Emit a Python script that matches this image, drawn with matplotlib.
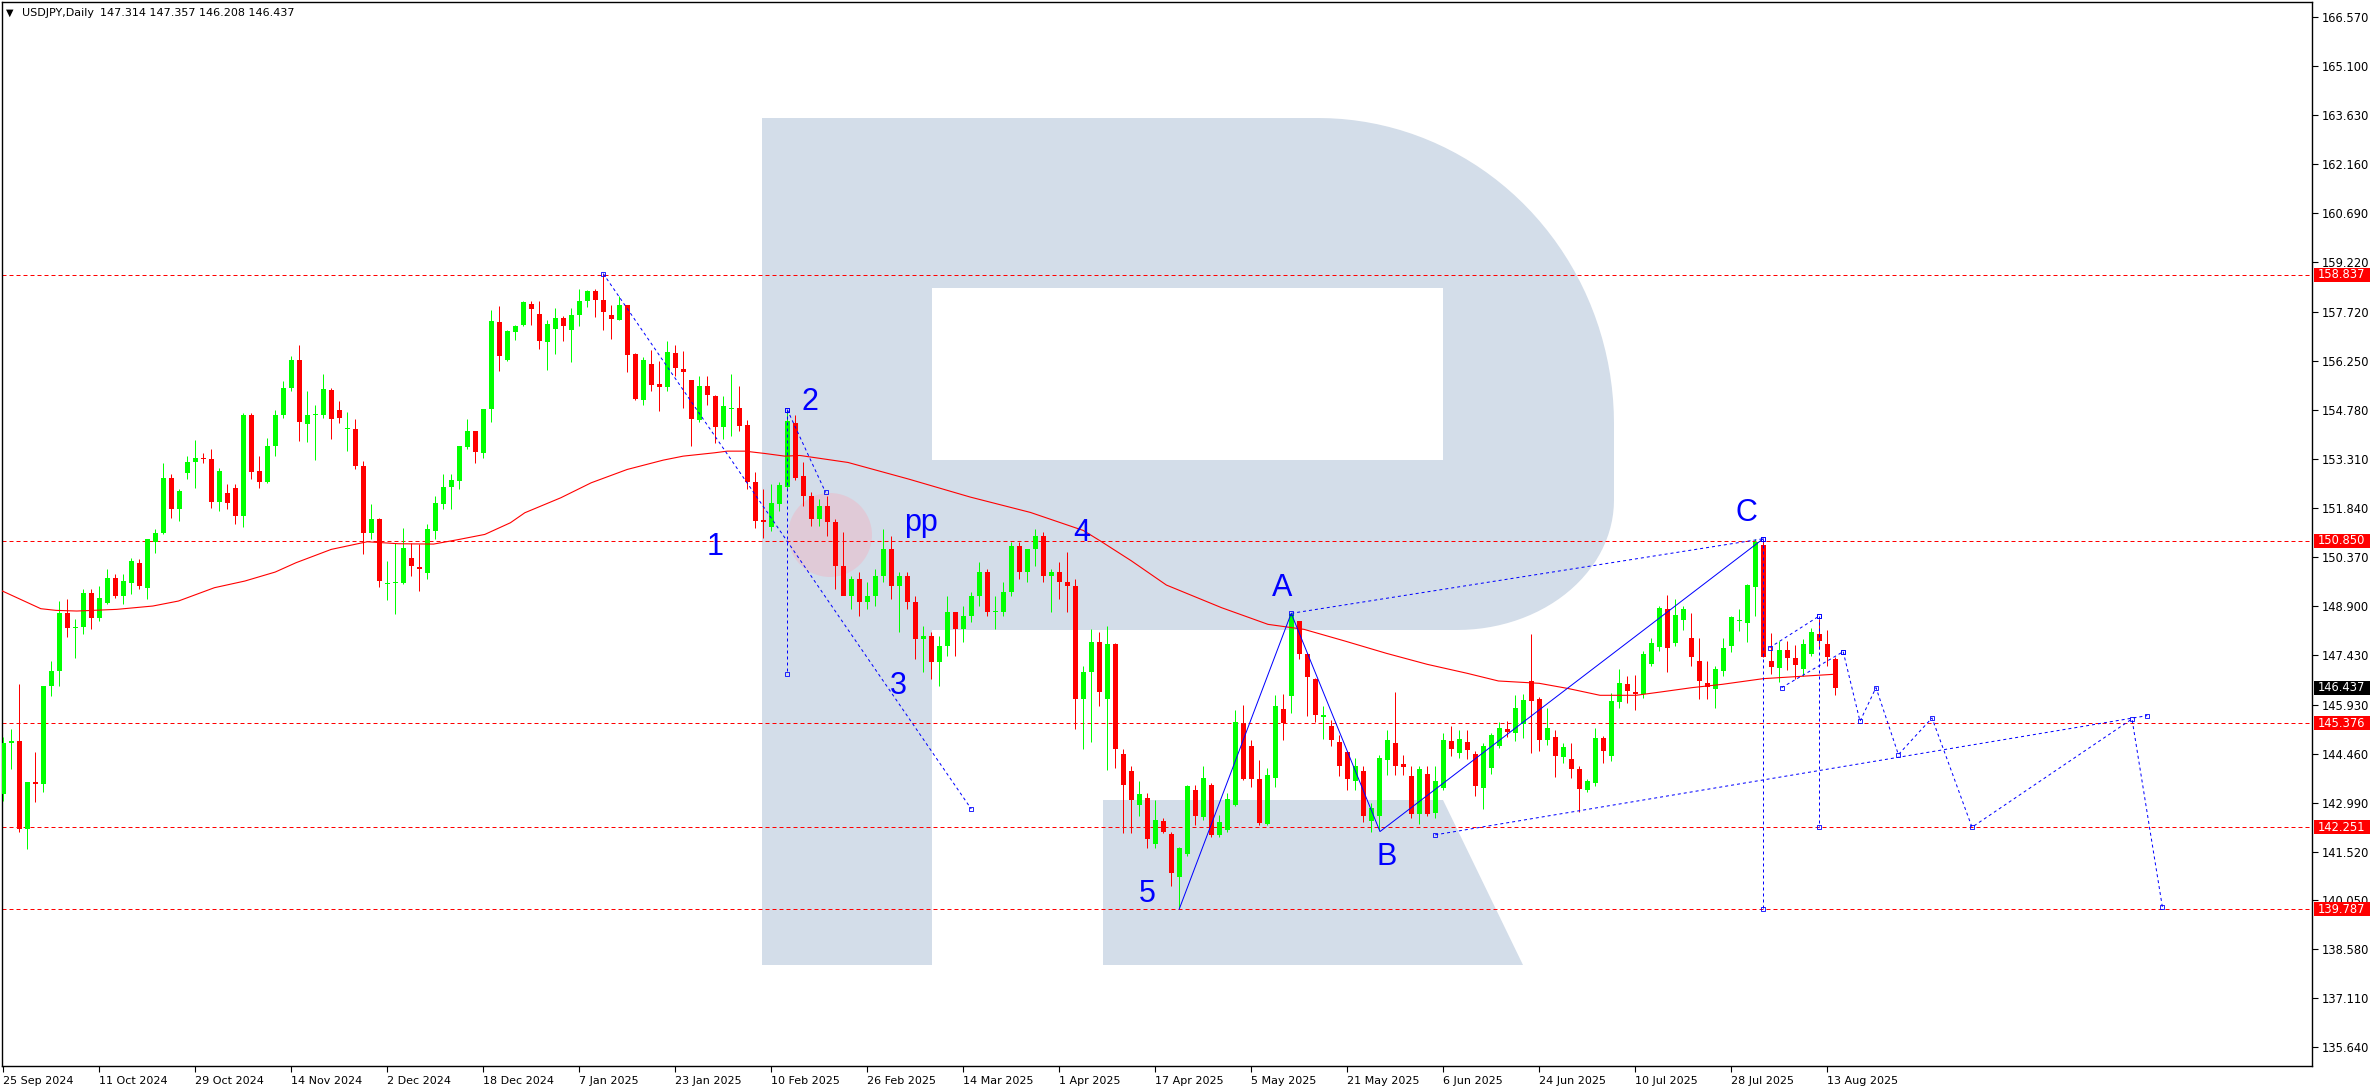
import matplotlib
matplotlib.use('Agg')
import matplotlib.pyplot as plt
from matplotlib.patches import Rectangle, Polygon, Circle
import matplotlib.transforms as mtrans
import numpy as np

W, H = 2376, 1090

# ---- daily candles, USDJPY, 25 Sep 2024 .. 14 Aug 2025 (bar index = position) ----
opens = [
    143.25, 144.78, 144.85, 142.20, 143.60, 143.55, 146.49, 146.94, 148.69, 148.22,
    148.25, 149.29, 148.54, 148.99, 149.74, 149.19, 149.59, 150.19, 149.44, 150.81,
    151.09, 152.74, 151.79, 152.87, 153.21, 153.34, 153.31, 152.02, 152.29, 152.44,
    151.59, 154.64, 152.94, 152.62, 153.69, 154.62, 155.44, 156.29, 154.36, 154.64,
    154.64, 155.39, 154.79, 154.19, 154.21, 153.09, 151.09, 151.51, 149.56, 149.57,
    149.59, 150.34, 150.07, 149.89, 151.14, 151.94, 152.47, 152.64, 153.66, 154.14,
    153.49, 154.81, 157.41, 156.27, 157.11, 157.34, 157.97, 157.67, 156.81, 157.20,
    157.53, 157.17, 157.62, 158.04, 158.34, 158.09, 157.64, 157.49, 157.94, 156.47,
    155.09, 156.17, 155.57, 155.47, 156.49, 156.02, 155.69, 154.47, 155.51, 155.21,
    154.27, 154.81, 154.84, 154.31, 152.61, 151.47, 151.27, 151.94, 152.47, 154.39,
    152.80, 152.20, 151.50, 151.90, 151.40, 150.10, 149.20, 149.70, 149.00, 149.20,
    149.80, 150.60, 149.50, 149.80, 149.00, 147.90, 148.00, 147.20, 147.70, 148.70,
    148.20, 148.60, 149.20, 149.90, 148.70, 148.70, 149.30, 150.70, 149.90, 150.60,
    151.00, 149.80, 149.90, 149.60, 149.50, 146.10, 146.90, 147.80, 146.11, 147.74,
    144.46, 143.93, 142.93, 143.13, 141.75, 142.45, 142.05, 140.76, 141.45, 143.36,
    142.56, 143.53, 142.03, 142.17, 142.93, 145.38, 144.70, 143.70, 142.35, 143.73,
    145.80, 146.19, 148.44, 147.44, 146.71, 145.57, 145.30, 144.80, 144.50, 143.63,
    143.93, 142.45, 142.58, 144.26, 144.78, 144.16, 143.78, 142.66, 143.86, 142.68,
    143.43, 144.83, 144.48, 144.80, 144.46, 143.43, 144.03, 144.68, 145.20, 145.08,
    145.36, 146.64, 146.09, 144.86, 144.96, 144.36, 144.30, 144.00, 143.38, 143.58,
    144.93, 144.38, 146.01, 146.54, 146.30, 146.24, 147.14, 147.67, 148.81, 147.77,
    148.47, 147.94, 147.24, 146.59, 146.40, 146.94, 147.69, 148.44, 148.37, 149.45,
    150.72, 147.24, 147.04, 147.56, 147.32, 147.01, 147.44, 148.06, 147.74, 147.314,
]
highs = [
    144.95, 145.20, 146.54, 143.60, 144.50, 146.50, 147.24, 149.04, 149.11, 148.49,
    149.39, 149.39, 149.49, 149.99, 149.84, 149.84, 150.34, 150.29, 150.89, 151.19,
    153.19, 152.84, 152.41, 153.39, 153.87, 153.49, 153.61, 153.04, 152.54, 152.54,
    154.69, 154.69, 153.39, 153.94, 154.79, 155.64, 156.41, 156.74, 155.34, 154.94,
    155.86, 155.44, 155.04, 154.72, 154.49, 153.24, 151.94, 151.54, 150.24, 150.79,
    151.22, 150.79, 150.74, 151.34, 152.19, 152.84, 152.84, 153.69, 154.49, 154.14,
    154.81, 157.79, 157.91, 157.19, 157.34, 158.04, 158.04, 158.04, 157.49, 157.84,
    157.59, 157.84, 158.41, 158.37, 158.41, 158.87, 157.94, 158.19, 157.94, 156.49,
    156.37, 156.59, 156.24, 156.84, 156.74, 156.54, 155.69, 155.79, 155.79, 155.24,
    155.19, 155.87, 155.51, 154.47, 152.91, 152.41, 152.54, 152.61, 154.79, 154.64,
    153.20, 152.30, 152.10, 152.20, 151.50, 151.10, 149.80, 149.90, 149.60, 150.00,
    151.20, 151.00, 149.90, 149.90, 149.20, 148.30, 148.10, 148.00, 149.20, 148.70,
    148.90, 149.30, 150.20, 150.00, 149.20, 149.60, 150.80, 150.80, 150.60, 151.20,
    151.10, 150.00, 150.20, 150.50, 149.70, 147.10, 148.20, 148.10, 148.29, 147.77,
    144.60, 144.10, 143.63, 143.28, 143.08, 142.52, 142.12, 141.67, 143.52, 143.52,
    144.08, 143.58, 142.63, 143.28, 145.76, 145.93, 144.88, 144.28, 144.03, 146.21,
    146.24, 148.67, 148.44, 147.49, 146.74, 145.88, 145.48, 145.03, 144.53, 144.33,
    144.08, 142.98, 144.43, 145.18, 146.31, 144.43, 144.08, 144.08, 144.08, 144.08,
    145.08, 145.28, 145.18, 145.18, 144.53, 144.78, 145.08, 145.40, 145.43, 146.21,
    146.26, 148.04, 146.17, 145.83, 145.18, 144.78, 144.78, 144.08, 143.70, 145.23,
    144.98, 146.28, 146.99, 146.79, 146.81, 147.54, 147.94, 148.89, 149.21, 149.11,
    148.89, 148.67, 147.94, 147.24, 147.09, 147.94, 148.59, 148.81, 149.55, 150.90,
    150.91, 148.09, 147.84, 147.84, 147.72, 147.91, 148.24, 148.49, 148.17, 147.357,
]
lows = [
    143.05, 144.00, 142.10, 141.60, 143.00, 143.30, 146.20, 146.50, 147.95, 147.34,
    148.04, 148.19, 148.44, 148.94, 149.14, 148.94, 149.24, 149.39, 149.09, 150.49,
    151.04, 151.54, 151.44, 152.69, 152.44, 153.19, 151.84, 151.74, 151.79, 151.34,
    151.27, 152.69, 152.42, 152.59, 153.39, 154.54, 155.34, 153.84, 153.81, 153.27,
    154.54, 153.89, 154.37, 153.54, 152.99, 150.44, 150.91, 149.46, 149.07, 148.64,
    149.54, 149.79, 149.34, 149.69, 150.89, 151.81, 151.79, 152.41, 153.59, 153.17,
    153.34, 154.41, 155.94, 156.24, 156.87, 157.31, 157.34, 156.62, 155.99, 156.47,
    156.84, 156.21, 157.31, 157.86, 157.56, 157.19, 156.91, 157.49, 155.91, 155.07,
    154.94, 155.34, 154.74, 155.34, 155.79, 154.84, 153.69, 154.41, 154.94, 153.79,
    153.89, 153.99, 154.14, 152.39, 151.24, 150.94, 151.14, 151.74, 152.39, 152.67,
    151.90, 151.30, 151.30, 151.00, 149.40, 149.30, 148.80, 148.60, 148.80, 148.90,
    149.60, 149.10, 148.10, 148.80, 147.30, 146.90, 146.70, 146.50, 147.40, 147.40,
    147.80, 148.40, 148.90, 148.60, 148.20, 148.60, 149.20, 149.70, 149.60, 150.10,
    149.60, 148.70, 149.10, 148.70, 145.20, 144.60, 144.80, 145.90, 143.98, 144.03,
    142.07, 142.07, 142.60, 141.64, 141.62, 142.09, 140.47, 139.82, 141.40, 142.32,
    142.48, 141.97, 141.97, 142.12, 142.90, 143.68, 143.46, 142.32, 142.32, 143.46,
    144.86, 145.68, 147.29, 145.58, 145.40, 144.90, 144.68, 143.80, 143.36, 143.38,
    142.42, 142.12, 142.18, 143.83, 143.83, 143.83, 142.53, 142.35, 142.60, 142.53,
    143.38, 144.38, 144.33, 144.30, 143.18, 142.80, 143.86, 144.63, 144.96, 144.83,
    144.94, 144.48, 144.53, 144.73, 143.76, 144.18, 143.73, 142.70, 143.30, 143.50,
    144.18, 144.23, 145.83, 145.98, 145.76, 146.14, 147.09, 147.54, 146.91, 147.69,
    148.17, 147.09, 146.09, 146.09, 145.83, 146.79, 147.51, 148.14, 147.81, 148.59,
    147.35, 146.84, 146.61, 146.97, 146.71, 146.79, 147.39, 147.59, 147.09, 146.208,
]
closes = [
    144.78, 144.85, 142.20, 143.60, 143.55, 146.49, 146.94, 148.69, 148.22, 148.27,
    149.29, 148.54, 149.14, 149.74, 149.19, 149.64, 150.24, 149.49, 150.89, 151.09,
    152.74, 151.79, 152.34, 153.22, 153.34, 153.29, 152.01, 152.94, 151.99, 151.59,
    154.64, 152.91, 152.62, 153.69, 154.64, 155.44, 156.29, 154.41, 154.64, 154.67,
    155.41, 154.51, 154.54, 154.22, 153.09, 151.09, 151.51, 149.64, 149.59, 149.61,
    150.62, 150.09, 150.01, 151.19, 151.97, 152.47, 152.66, 153.69, 154.14, 153.51,
    154.81, 157.44, 156.41, 157.14, 157.31, 158.01, 157.82, 156.84, 157.37, 157.53,
    157.31, 157.64, 158.06, 158.34, 158.09, 157.71, 157.51, 157.94, 156.44, 155.12,
    156.29, 155.54, 155.47, 156.52, 156.04, 155.91, 154.49, 155.51, 155.22, 154.27,
    154.91, 154.84, 154.29, 152.61, 151.44, 151.41, 151.99, 152.51, 154.44, 152.74,
    152.20, 151.50, 151.90, 151.40, 150.10, 149.20, 149.70, 149.00, 149.20, 149.80,
    150.60, 149.50, 149.80, 149.00, 147.90, 148.00, 147.20, 147.70, 148.70, 148.20,
    148.60, 149.20, 149.90, 148.70, 148.70, 149.30, 150.70, 149.90, 150.60, 151.00,
    149.80, 149.90, 149.60, 149.50, 146.10, 146.90, 147.80, 146.30, 147.74, 144.60,
    143.53, 143.06, 143.26, 141.89, 142.47, 142.12, 140.89, 141.62, 143.49, 142.58,
    143.73, 142.03, 142.40, 143.10, 145.40, 143.70, 143.70, 142.39, 143.83, 145.90,
    145.38, 148.64, 147.44, 146.77, 145.63, 145.63, 144.88, 144.08, 143.70, 144.08,
    142.58, 142.83, 144.33, 144.88, 144.08, 144.06, 142.66, 144.00, 142.66, 143.63,
    144.88, 144.60, 144.90, 144.58, 143.50, 144.70, 145.03, 145.23, 145.10, 145.83,
    146.06, 146.04, 144.86, 145.23, 144.40, 144.66, 144.00, 143.40, 143.63, 144.93,
    144.53, 146.03, 146.57, 146.34, 146.24, 147.44, 147.77, 148.84, 147.64, 148.61,
    148.81, 147.37, 146.64, 146.47, 147.01, 147.64, 148.56, 148.46, 149.52, 150.82,
    147.37, 147.06, 147.56, 147.32, 147.12, 147.74, 148.12, 147.84, 147.37, 146.437,
]

# moving average (bar index, price)
ma_bar = [-0.1, 4.7, 6.6, 9.2, 14.2, 18.7, 21.9, 26.4, 30.2, 34, 36.6, 41, 45.5, 49.4,
          53.8, 57, 60.2, 63.4, 65.2, 69.7, 73.5, 78, 82.5, 85, 88.9, 90.5, 92.7, 95.2,
          97.7, 99.6, 105.6, 113.2, 120.9, 128.4, 135, 137.1, 141, 145.4, 152.3, 158.1,
          162.6, 167.7, 172.9, 178, 183, 186.9, 192, 195.7, 199.6, 204.1, 207.2, 211.1,
          214.9, 220, 228.8]
ma_val = [149.34, 148.81, 148.76, 148.74, 148.79, 148.89, 149.04, 149.44, 149.64, 149.91,
          150.19, 150.59, 150.82, 150.76, 150.75, 150.89, 151.04, 151.39, 151.69, 152.14,
          152.59, 152.99, 153.27, 153.39, 153.49, 153.54, 153.54, 153.47, 153.39, 153.41,
          153.20, 152.70, 152.16, 151.70, 151.16, 150.85, 150.25, 149.52, 148.84, 148.34,
          148.19, 147.84, 147.47, 147.14, 146.87, 146.64, 146.57, 146.41, 146.21, 146.21,
          146.31, 146.44, 146.54, 146.71, 146.84]

levels = [158.837, 150.850, 145.376, 142.251, 139.787]
last_price = 146.437

ytick_vals = [166.570, 165.100, 163.630, 162.160, 160.690, 159.220, 157.720, 156.250,
              154.780, 153.310, 151.840, 150.370, 148.900, 147.430, 145.930, 144.460,
              142.990, 141.520, 140.050, 138.580, 137.110, 135.640]
date_labels = ['25 Sep 2024', '11 Oct 2024', '29 Oct 2024', '14 Nov 2024', '2 Dec 2024',
               '18 Dec 2024', '7 Jan 2025', '23 Jan 2025', '10 Feb 2025', '26 Feb 2025',
               '14 Mar 2025', '1 Apr 2025', '17 Apr 2025', '5 May 2025', '21 May 2025',
               '6 Jun 2025', '24 Jun 2025', '10 Jul 2025', '28 Jul 2025', '13 Aug 2025']
date_step = 12

# wave markup (bar index, price)
wave_abc = [(147, 139.79), (161, 148.67), (172.1, 142.12), (220, 150.91)]
dotted_segments = [
    [(75, 158.87), (121, 142.80)],
    [(98, 154.79), (98, 146.85)],
    [(98, 154.79), (102.8, 152.30)],
    [(161, 148.67), (220, 150.91)],
    [(179, 142.02), (268, 145.60)],
    [(220.8, 147.64), (227, 148.59)],
    [(222.3, 146.44), (230, 147.52)],
    [(220, 150.91), (220, 139.79)],
    [(227, 148.59), (227, 142.25)],
]
forecast = [(230, 147.52), (232.1, 145.43), (234.1, 146.44), (236.9, 144.43), (241.1, 145.53),
            (246.1, 142.25), (266.1, 145.50), (269.9, 139.85)]
wave_labels = [('1', 89.0, 150.65), ('2', 100.9, 155.03), ('3', 111.9, 146.48),
               ('4', 134.8, 151.07), ('5', 143.0, 140.25), ('pp', 114.7, 151.38),
               ('A', 159.9, 149.43), ('B', 172.9, 141.36), ('C', 217.9, 151.67)]

BLUE = '#0000ff'
BULL = '#00ff00'
BEAR = '#ff0000'
PX = 0.72  # one pixel in points at dpi 100

fig = plt.figure(figsize=(W / 100, H / 100), dpi=100)
fig.patch.set_facecolor('white')

# background logo, drawn in pixel coordinates
bg = fig.add_axes([0, 0, 1, 1], zorder=0)
bg.set_xlim(0, W)
bg.set_ylim(H, 0)
bg.axis('off')
logo = '#d3dde9'
bg.add_patch(Rectangle((762, 118), 170, 847, fc=logo, ec='none'))
t1 = np.linspace(np.pi / 2, 0, 40)
t2 = np.linspace(0, -np.pi / 2, 30)
bowl = [(932, 118), (1318, 118)]
bowl += list(zip(1318 + 296 * np.cos(t1), 424 - 306 * np.sin(t1)))
bowl += [(1614, 500)]
bowl += list(zip(1457 + 157 * np.cos(t2), 500 - 130 * np.sin(t2)))
bowl += [(932, 630)]
bg.add_patch(Polygon(bowl, closed=True, fc=logo, ec='none'))
bg.add_patch(Rectangle((932, 288), 511, 172, fc='white', ec='none'))
bg.add_patch(Polygon([(1103, 800), (1443, 800), (1523, 965), (1103, 965)], closed=True,
                     fc=logo, ec='none'))
bg.add_patch(Circle((830, 535), 42, fc='#ff9fb0', ec='none', alpha=0.3))

# main price axes
left, right, top, bottom = 2, 2312, 2, 1066
ax = fig.add_axes([left / W, 1 - bottom / H, (right - left) / W, (bottom - top) / H], zorder=1)
ax.set_facecolor('none')
ax.set_xlim((left - 3.2) / 8, (right - 3.2) / 8)
ax.set_ylim(135.081, 167.024)

idx = np.arange(len(opens))
o = np.array(opens); h = np.array(highs); l = np.array(lows); c = np.array(closes)
cols = np.where(c >= o, BULL, BEAR)
ax.vlines(idx, l, h, colors=cols, lw=PX, zorder=3)
body_lo = np.minimum(o, c)
body_h = np.maximum(np.abs(c - o), 0.03)
ax.bar(idx, body_h, bottom=body_lo, width=0.62, color=cols, lw=0, zorder=4)

ax.plot(ma_bar, ma_val, color='#ff0000', lw=0.8, zorder=5)

for lv in levels:
    ax.axhline(lv, color='#ff0000', lw=PX, ls=(0, (4, 3)), zorder=2)

mk = dict(marker='s', ms=3, mfc='none', mec=BLUE, mew=0.6)
for seg in dotted_segments:
    xs, ys = zip(*seg)
    ax.plot(xs, ys, color=BLUE, lw=PX, ls=(0, (3, 3)), zorder=6)
    ax.plot(xs, ys, ls='none', zorder=6, **mk)
fx, fy = zip(*forecast)
ax.plot(fx, fy, color=BLUE, lw=PX, ls=(0, (3, 3)), zorder=6)
ax.plot(fx, fy, ls='none', zorder=6, **mk)
wx, wy = zip(*wave_abc)
ax.plot(wx, wy, color=BLUE, lw=PX, zorder=6)

for txt, bx, py in wave_labels:
    ax.text(bx, py, txt, color=BLUE, fontsize=22, family='Liberation Sans',
            ha='center', va='center', zorder=7)

# axes styling
for s in ax.spines.values():
    s.set_color('black')
    s.set_linewidth(1.0)
ax.yaxis.tick_right()
ax.set_yticks(ytick_vals)
ax.set_yticklabels([f'{v:.3f}' for v in ytick_vals])
ax.tick_params(axis='y', direction='out', length=4, width=0.8, pad=3,
               labelsize=8.3, colors='black')
ax.set_xticks(np.arange(len(date_labels)) * date_step)
ax.set_xticklabels(date_labels, ha='left')
ax.tick_params(axis='x', direction='out', length=4, width=0.8, pad=3, labelsize=8)

# price tags on the right scale
trans = mtrans.blended_transform_factory(ax.transAxes, ax.transData)
x0 = (2314 - left) / (right - left)
bw = 56 / (right - left)
bh = 14 / 33.31
for lv in levels + [last_price]:
    fc = 'black' if lv == last_price else '#ff0000'
    ax.add_patch(Rectangle((x0, lv - bh / 2), bw, bh, transform=trans, fc=fc, ec='none',
                           clip_on=False, zorder=8))
    ax.text(x0 + 4 / (right - left), lv, f'{lv:.3f}', transform=trans, color='white',
            fontsize=8.3, va='center', ha='left', zorder=9, clip_on=False)

fig.text(6 / W, 1 - 12.5 / H, '\u25bc', fontsize=7, va='center', ha='left')
fig.text(22 / W, 1 - 12.5 / H, 'USDJPY,Daily', fontsize=8, va='center', ha='left')
fig.text(100 / W, 1 - 12.5 / H, '147.314 147.357 146.208 146.437', fontsize=8,
         va='center', ha='left')

fig.savefig('out.png', dpi=100)
